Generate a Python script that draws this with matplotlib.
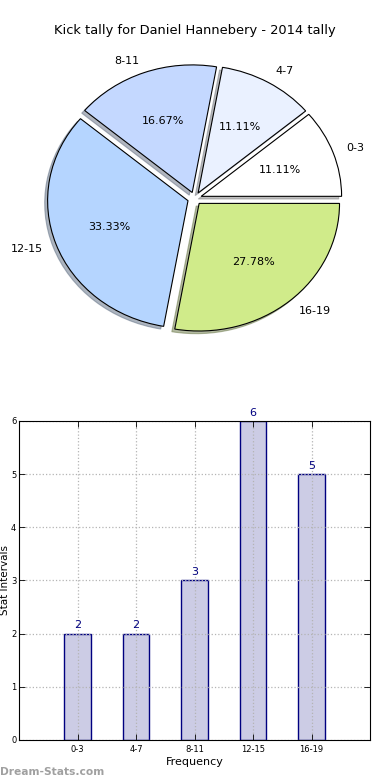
import numpy as np
import matplotlib
matplotlib.use("Agg")
import matplotlib.pyplot as plt

intervals = ["0-3", "4-7", "8-11", "12-15", "16-19"]
counts = [2, 2, 3, 6, 5]
pie_colors = ["#FFFFFF", "#EAF1FF", "#C4D8FF", "#B5D5FF", "#D0EB8A"]
explode = [0.05, 0.05, 0.05, 0.05, 0.05]

fig = plt.figure(figsize=(3.9, 7.8), dpi=100, facecolor="white")

# pie
ax0 = fig.add_axes([0.049, 0.541, 0.9, 0.409])
wedges, texts, autotexts = ax0.pie(counts, labels=intervals, colors=pie_colors,
                                   explode=explode, autopct="%.2f%%",
                                   shadow=dict(ox=-0.015, oy=-0.015, shade=0.5),
                                   startangle=0, counterclock=True,
                                   wedgeprops=dict(edgecolor="black", linewidth=0.8),
                                   textprops=dict(fontsize=8))
ax0.set_aspect("auto")
ax0.set_xlim(-1.25, 1.25)
ax0.set_ylim(-1.25, 1.25)
fig.text(0.5, 0.961, "Kick tally for Daniel Hannebery - 2014 tally",
         ha="center", va="center", fontsize=9.4)

# bars
ax1 = fig.add_axes([0.049, 0.0513, 0.9, 0.409])
x = np.arange(len(intervals))
ax1.bar(x, counts, width=0.45, color="#CCCCE5", edgecolor="#000080",
        linewidth=1.0, zorder=2)
for xi, c in zip(x, counts):
    ax1.text(xi, c + 0.06, str(c), ha="center", va="bottom", color="#000080",
             fontsize=8, clip_on=False)
ax1.set_xlim(-1, 5)
ax1.set_ylim(0, 6)
ax1.set_xticks(x)
ax1.set_xticklabels(intervals)
ax1.set_yticks(range(7))
ax1.tick_params(direction="in", labelsize=6, top=True, right=True, length=4, width=0.6)
ax1.tick_params(axis="y", pad=2)
ax1.grid(True, linestyle=":", color="#b4b4b4", linewidth=0.9, zorder=2.5)
ax1.set_axisbelow(False)
ax1.set_xlabel("Frequency", fontsize=8, labelpad=2)
for s in ax1.spines.values():
    s.set_linewidth(0.8)
    s.set_zorder(3)
fig.text(0.0, 0.256, "Stat Intervals", rotation=90, fontsize=7.5,
         ha="left", va="center")

fig.text(0.0, 0.004, "Dream-Stats.com", color="#a0a0a0", fontsize=7.7,
         fontweight="bold", ha="left", va="bottom")

fig.savefig("out.png", dpi=100, facecolor="white")
